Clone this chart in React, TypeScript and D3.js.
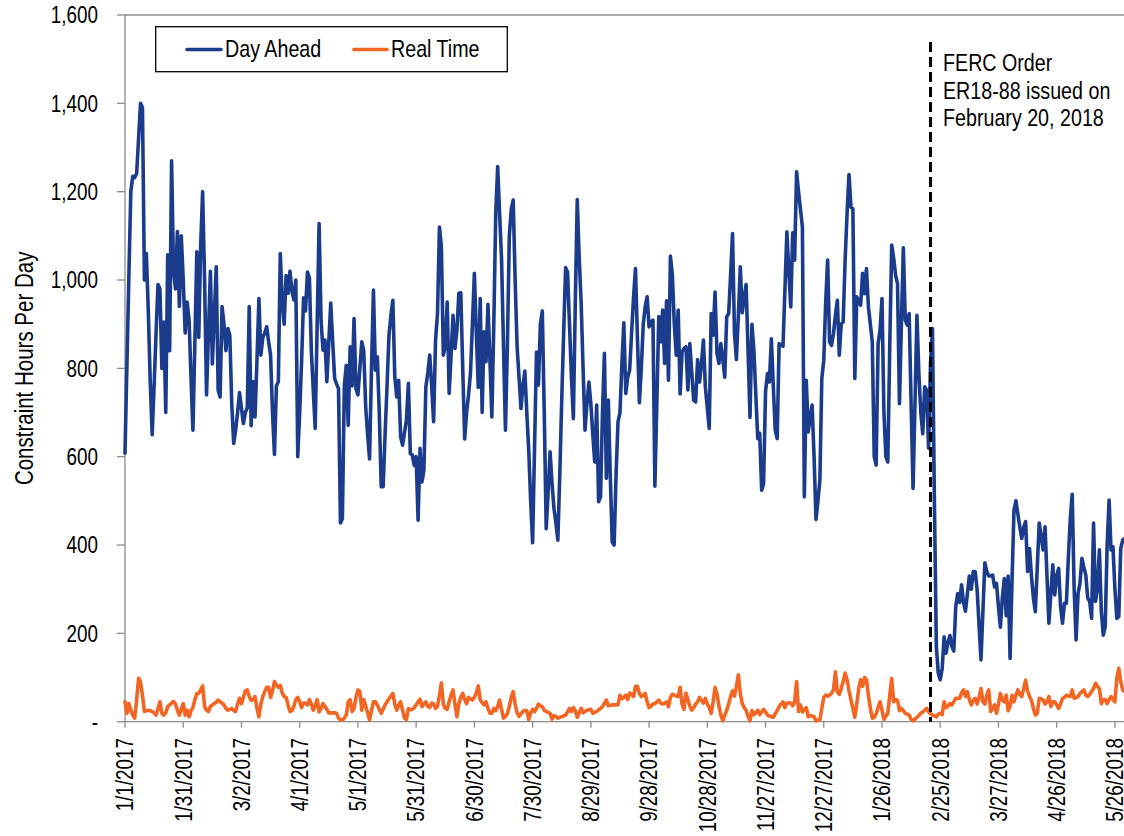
import React from "react";
import * as d3 from "d3";

// daily values starting 1/1/2017
const startDate = new Date(Date.UTC(2017, 0, 1));
const orderDay = 415; // 2/20/2018

const dayAhead = [
  608, 810, 1010, 1200, 1235, 1232, 1241, 1320, 1400, 1390,
  1000, 1060, 930, 770, 650, 760, 880, 990, 980, 800,
  905, 700, 1057, 840, 1270, 1020, 980, 1110, 940, 1100,
  1000, 880, 950, 910, 780, 660, 860, 1064, 870, 1080,
  1200, 1000, 740, 880, 1020, 810, 920, 1030, 750, 735,
  940, 900, 840, 890, 875, 720, 630, 660, 700, 745,
  710, 675, 700, 710, 940, 670, 770, 690, 820, 958,
  830, 870, 880, 894, 860, 830, 700, 605, 760, 770,
  1060, 950, 900, 1010, 970, 1020, 975, 955, 1000, 600,
  700, 818, 960, 930, 1018, 1005, 840, 750, 664, 900,
  1128, 909, 841, 864, 770, 860, 948, 860, 777, 765,
  754, 450, 460, 760, 807, 671, 849, 760, 913, 754,
  740, 800, 860, 840, 713, 650, 595, 800, 977, 796,
  826, 700, 532, 532, 650, 760, 875, 920, 954, 780,
  735, 773, 645, 626, 655, 683, 766, 607, 604, 580,
  600, 456, 619, 543, 570, 758, 790, 830, 760, 679,
  864, 924, 1120, 1075, 830, 849, 950, 743, 830, 920,
  845, 886, 970, 971, 800, 640, 700, 740, 790, 900,
  1015, 880, 757, 958, 700, 883, 815, 945, 820, 690,
  900, 1150, 1257, 1150, 1048, 850, 660, 850, 1100, 1160,
  1181, 1000, 850, 780, 709, 760, 794, 700, 615, 500,
  405, 620, 837, 762, 900, 930, 700, 437, 520, 611,
  540, 483, 450, 411, 560, 728, 880, 1028, 1018, 900,
  780, 686, 950, 1182, 1050, 950, 800, 660, 720, 769,
  720, 650, 588, 717, 498, 509, 700, 834, 551, 728,
  560, 407, 400, 560, 679, 700, 810, 903, 743, 780,
  796, 880, 960, 1026, 870, 722, 800, 900, 940, 962,
  894, 905, 909, 533, 720, 917, 860, 932, 811, 953,
  773, 1054, 1011, 900, 830, 932, 742, 837, 845, 849,
  751, 856, 790, 728, 724, 820, 769, 810, 864, 758,
  710, 664, 924, 875, 973, 834, 811, 856, 820, 780,
  917, 924, 1010, 1105, 879, 820, 920, 1030, 926, 960,
  990, 840, 689, 900, 840, 740, 641, 653, 524, 539,
  747, 788, 769, 867, 760, 660, 641, 856, 853, 850,
  980, 1109, 1020, 939, 1107, 1045, 1245, 1200, 1160, 1120,
  509, 773, 656, 690, 717, 600, 458, 500, 547, 777,
  818, 950, 1045, 860, 852, 879, 920, 954, 830, 901,
  905, 1045, 1150, 1239, 1165, 1162, 777, 962, 950, 943,
  1015, 969, 1026, 939, 900, 860, 600, 581, 856, 886,
  958, 700, 600, 588, 849, 1079, 1050, 1011, 992, 720,
  900, 1073, 909, 898, 924, 720, 528, 720, 920, 788,
  700, 652, 758, 751, 619, 811, 890, 500, 170, 110,
  95, 120, 192, 155, 180, 195, 170, 160, 260, 290,
  270, 310, 270, 250, 290, 330, 300, 340, 340, 300,
  220, 140, 250, 360, 340, 330, 330, 332, 305, 313,
  260, 214, 280, 324, 240, 330, 143, 320, 479, 500,
  470, 441, 415, 440, 453, 340, 392, 330, 280, 249,
  350, 450, 420, 389, 441, 330, 223, 290, 355, 287,
  330, 347, 260, 223, 268, 268, 370, 460, 515, 300,
  185, 290, 313, 370, 350, 332, 280, 272, 234, 450,
  272, 300, 389, 250, 196, 215, 400, 502, 389, 396,
  300, 234, 238, 392, 411, 415,
];

const realTime = [
  45, 19, 41, 26, 15, 8, 50, 98, 90, 60,
  23, 25, 26, 25, 23, 20, 15, 30, 45, 19,
  15, 20, 34, 38, 42, 46, 40, 26, 15, 28,
  41, 15, 26, 11, 25, 32, 50, 64, 64, 72,
  81, 34, 26, 23, 35, 38, 41, 44, 49, 45,
  42, 38, 30, 26, 28, 30, 25, 23, 40, 53,
  41, 55, 70, 72, 57, 48, 50, 57, 30, 11,
  40, 57, 68, 78, 78, 55, 70, 91, 83, 78,
  82, 65, 57, 55, 38, 23, 25, 35, 50, 55,
  45, 32, 42, 42, 38, 50, 40, 26, 36, 50,
  22, 30, 41, 34, 28, 20, 20, 20, 20, 19,
  8, 4, 4, 8, 15, 45, 50, 23, 30, 55,
  72, 68, 26, 50, 35, 20, 4, 25, 45, 45,
  38, 28, 19, 28, 38, 45, 52, 58, 64, 40,
  26, 38, 45, 26, 8, 5, 30, 27, 28, 32,
  38, 45, 51, 34, 40, 45, 35, 32, 42, 40,
  30, 35, 60, 88, 40, 30, 28, 45, 60, 72,
  40, 11, 40, 55, 64, 50, 41, 55, 52, 49,
  55, 65, 81, 50, 43, 38, 45, 30, 19, 19,
  30, 25, 35, 49, 28, 8, 12, 18, 35, 55,
  68, 40, 20, 12, 18, 23, 26, 25, 5, 20,
  28, 23, 30, 40, 36, 34, 26, 23, 21, 19,
  6, 14, 12, 8, 10, 11, 13, 15, 22, 30,
  23, 32, 25, 10, 20, 30, 20, 23, 26, 27,
  28, 19, 21, 23, 27, 30, 34, 42, 49, 36,
  37, 38, 38, 38, 38, 60, 52, 55, 60, 50,
  65, 62, 57, 80, 80, 64, 57, 60, 64, 45,
  32, 35, 40, 41, 45, 49, 42, 40, 42, 45,
  34, 55, 62, 60, 58, 57, 78, 40, 28, 65,
  50, 35, 26, 32, 40, 45, 55, 48, 42, 53,
  40, 32, 19, 45, 78, 62, 35, 15, 2, 15,
  26, 40, 57, 70, 58, 80, 106, 64, 41, 32,
  26, 12, 2, 25, 16, 20, 26, 16, 22, 28,
  22, 15, 13, 11, 10, 18, 25, 34, 40, 45,
  32, 42, 43, 42, 36, 45, 91, 23, 38, 22,
  28, 32, 11, 14, 13, 11, 2, 3, 4, 30,
  55, 60, 58, 60, 64, 72, 113, 68, 62, 75,
  91, 110, 95, 70, 50, 30, 10, 40, 75, 95,
  80, 100, 95, 60, 30, 8, 10, 18, 32, 45,
  26, 5, 12, 19, 60, 98, 45, 50, 48, 25,
  30, 25, 19, 17, 15, 5, 2, 6, 10, 14,
  19, 22, 26, 30, 23, 18, 15, 13, 11, 17,
  19, 16, 45, 32, 35, 41, 38, 45, 53, 53,
  53, 65, 72, 57, 68, 50, 38, 48, 53, 40,
  55, 75, 45, 40, 60, 72, 23, 30, 38, 19,
  40, 64, 50, 45, 60, 25, 35, 60, 45, 60,
  72, 62, 57, 75, 94, 70, 57, 48, 30, 15,
  19, 53, 52, 49, 40, 45, 57, 34, 45, 45,
  38, 30, 40, 53, 55, 60, 58, 57, 72, 53,
  55, 57, 64, 68, 72, 60, 57, 62, 68, 75,
  87, 80, 75, 41, 50, 50, 41, 50, 57, 50,
  45, 100, 121, 90, 72, 68,
];

const yTicks = [0, 200, 400, 600, 800, 1000, 1200, 1400, 1600];
const noteLines = ["FERC Order", "ER18-88 issued on", "February 20, 2018"];

const W = 1124;
const H = 836;
const font = "'Liberation Sans', Arial, sans-serif";
const narrow = 0.82; // squeeze Liberation Sans to an Arial Narrow look
const axisColor = "#8c8c8c";
const blue = "#1b3c8c";
const orange = "#f26522";

// text squeezed horizontally along its own direction
const Narrow = ({
  at,
  rotate = 0,
  anchor = "start",
  size = 23,
  dy,
  children,
}: {
  at: [number, number];
  rotate?: number;
  anchor?: string;
  size?: number;
  dy?: string;
  children: React.ReactNode;
}) => (
  <text
    transform={`translate(${at[0]}, ${at[1]}) rotate(${rotate}) scale(${narrow}, 1)`}
    textAnchor={anchor}
    dy={dy}
    fontSize={size}
    fill="#000"
  >
    {children}
  </text>
);

export default function App() {
  const lastDay = dayAhead.length - 1;
  const x = d3.scaleLinear().domain([0, lastDay]).range([125, 125 + lastDay * 1.941]);
  const y = d3.scaleLinear().domain([0, 1600]).range([721.7, 15]);

  const line = d3
    .line<number>()
    .x((_, i) => x(i))
    .y((d) => y(d));

  const xTicks = d3.range(0, lastDay, 30);
  const fmtDate = d3.utcFormat("%-m/%-d/%Y");
  const fmtNum = d3.format(",");

  return (
    <svg
      width={W}
      height={H}
      style={{ position: "absolute", left: 0, top: 0, background: "#fff" }}
      fontFamily={font}
    >
      <rect width={W} height={H} fill="#fff" />

      {/* top border */}
      <line x1={x(0)} x2={W} y1={y(1600)} y2={y(1600)} stroke={axisColor} strokeWidth={1.3} />

      {/* y axis */}
      <line x1={x(0)} x2={x(0)} y1={y(1600)} y2={y(0)} stroke={axisColor} strokeWidth={1.3} />
      {yTicks.map((t) => (
        <g key={t}>
          <line x1={x(0) - 8} x2={x(0)} y1={y(t)} y2={y(t)} stroke={axisColor} strokeWidth={1.3} />
          <Narrow at={[98, y(t)]} anchor="end" dy="0.36em" size={23}>
            {t === 0 ? "-" : fmtNum(t)}
          </Narrow>
        </g>
      ))}
      <Narrow at={[33, y(800)]} rotate={-90} anchor="middle" size={25}>
        Constraint Hours Per Day
      </Narrow>

      {/* x axis */}
      <line x1={x(0)} x2={W} y1={y(0)} y2={y(0)} stroke={axisColor} strokeWidth={1.3} />
      {xTicks.map((d) => (
        <g key={d}>
          <line x1={x(d)} x2={x(d)} y1={y(0)} y2={y(0) + 6} stroke={axisColor} strokeWidth={1.3} />
          <Narrow at={[x(d), 738]} rotate={-90} anchor="end" dy="0.36em" size={23}>
            {fmtDate(d3.utcDay.offset(startDate, d))}
          </Narrow>
        </g>
      ))}

      {/* series */}
      <path d={line(dayAhead) ?? ""} fill="none" stroke={blue} strokeWidth={3.6} strokeLinejoin="round" strokeLinecap="round" />
      <path d={line(realTime) ?? ""} fill="none" stroke={orange} strokeWidth={3.6} strokeLinejoin="round" strokeLinecap="round" />

      {/* FERC order marker */}
      <line
        x1={x(orderDay)}
        x2={x(orderDay)}
        y1={42}
        y2={y(0)}
        stroke="#000"
        strokeWidth={3}
        strokeDasharray="10 5"
      />
      {noteLines.map((s, i) => (
        <Narrow key={s} at={[943, 71 + i * 27.5]} size={24}>
          {s}
        </Narrow>
      ))}

      {/* legend */}
      <rect x={155.7} y={26.7} width={351.6} height={45} fill="#fff" stroke="#000" strokeWidth={1.3} />
      <line x1={187} x2={221} y1={49.5} y2={49.5} stroke={blue} strokeWidth={3.6} strokeLinecap="round" />
      <Narrow at={[225, 57.3]} size={24}>Day Ahead</Narrow>
      <line x1={354} x2={387} y1={49.5} y2={49.5} stroke={orange} strokeWidth={3.6} strokeLinecap="round" />
      <Narrow at={[391, 57.3]} size={24}>Real Time</Narrow>
    </svg>
  );
}
